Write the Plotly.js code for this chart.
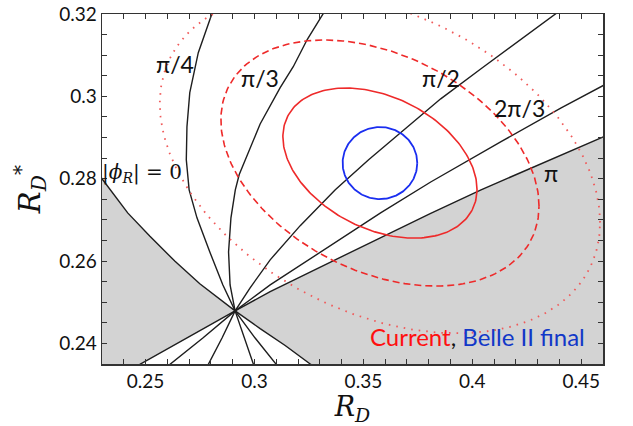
<!DOCTYPE html>
<html>
<head>
<meta charset="utf-8">
<script src="https://cdn.plot.ly/plotly-3.0.1.min.js"></script>
<style>html,body{margin:0;padding:0;background:#fff;}#chart{width:633px;height:426px;}</style>
</head>
<body>
<div id="chart"></div>
<script>
// Axis ranges
const xRange = [0.23, 0.46];
const yRange = [0.235, 0.32];

// Branches of the |phi_R| contours, each starting at the common (SM) point and going outward
const phi0UpperX = [0.2911, 0.2749, 0.2634, 0.2519, 0.2418, 0.2358, 0.2300, 0.2290];
const phi0UpperY = [0.2479, 0.2545, 0.2600, 0.2661, 0.2717, 0.2757, 0.2800, 0.2807];
const phi0LowerX = [0.2911, 0.3026, 0.3141, 0.3256, 0.3280];
const phi0LowerY = [0.2479, 0.2436, 0.2395, 0.2350, 0.2341];

const phiPiUpperX = [0.2911, 0.3072, 0.3441, 0.3809, 0.4040, 0.4270, 0.4607];
const phiPiUpperY = [0.2479, 0.2526, 0.2621, 0.2716, 0.2773, 0.2826, 0.2903];
const phiPiLowerX = [0.2911, 0.2689, 0.2473, 0.2450];
const phiPiLowerY = [0.2479, 0.2413, 0.2349, 0.2342];

const phiQ4UpperX = [0.2911, 0.2855, 0.2795, 0.2736, 0.2700, 0.2687, 0.2690, 0.2703, 0.2742, 0.2803, 0.2813];
const phiQ4UpperY = [0.2479, 0.2542, 0.2622, 0.2705, 0.2773, 0.2846, 0.2926, 0.3009, 0.3106, 0.3198, 0.3215];
const phiQ4LowerX = [0.2911, 0.3003, 0.3100, 0.3115];
const phiQ4LowerY = [0.2479, 0.2413, 0.2349, 0.2339];

const phiT3UpperX = [0.2911, 0.2888, 0.2881, 0.2892, 0.2912, 0.2930, 0.2975, 0.3026, 0.3118, 0.3178, 0.3242, 0.3312, 0.3332];
const phiT3UpperY = [0.2479, 0.2542, 0.2622, 0.2705, 0.2773, 0.2810, 0.2870, 0.2933, 0.3021, 0.3072, 0.3138, 0.3198, 0.3215];
const phiT3LowerX = [0.2911, 0.2952, 0.2995, 0.3002];
const phiT3LowerY = [0.2479, 0.2413, 0.2349, 0.2339];

const phiH2UpperX = [0.2911, 0.2980, 0.3072, 0.3210, 0.3371, 0.3524, 0.3671, 0.3855, 0.4040, 0.4376, 0.4420];
const phiH2UpperY = [0.2479, 0.2535, 0.2603, 0.2686, 0.2773, 0.2846, 0.2912, 0.2994, 0.3067, 0.3198, 0.3215];
const phiH2LowerX = [0.2911, 0.2851, 0.2788, 0.2778];
const phiH2LowerY = [0.2479, 0.2413, 0.2349, 0.2339];

const phi23UpperX = [0.2911, 0.2980, 0.3072, 0.3302, 0.3579, 0.3809, 0.4132, 0.4408, 0.4607];
const phi23UpperY = [0.2479, 0.2506, 0.2542, 0.2622, 0.2717, 0.2792, 0.2890, 0.2972, 0.3028];
const phi23LowerX = [0.2911, 0.2763, 0.2611, 0.2588];
const phi23LowerY = [0.2479, 0.2413, 0.2349, 0.2339];

// Measurements: central values, uncertainties, correlation
const measCenter = [0.3576, 0.2838];
const currentSigma = [0.02938, 0.01202];
const currentRho = -0.35;
const belleSigma = [0.0113, 0.00577];
const belleRho = 0.0;
const chi2Levels = [2.30, 6.18, 11.83];

function joinCurve(ux, uy, lx, ly) {
  return {x: ux.slice().reverse().concat(lx.slice(1)), y: uy.slice().reverse().concat(ly.slice(1))};
}
function ellipse(c, s, rho, k) {
  const xs = [], ys = [], n = 240, r = Math.sqrt(k), q = Math.sqrt(1 - rho * rho);
  for (let i = 0; i <= n; i++) {
    const t = 2 * Math.PI * i / n;
    xs.push(c[0] + r * s[0] * Math.cos(t));
    ys.push(c[1] + r * s[1] * (rho * Math.cos(t) + q * Math.sin(t)));
  }
  return {x: xs, y: ys};
}

const gray = '#d3d3d3';
const traces = [];
// excluded regions
traces.push({
  x: phi0UpperX.slice().reverse().concat(phiPiLowerX.slice(1), [xRange[0] - 0.01, xRange[0] - 0.01]),
  y: phi0UpperY.slice().reverse().concat(phiPiLowerY.slice(1), [yRange[0] - 0.01, phi0UpperY[phi0UpperY.length - 1]]),
  fill: 'toself', fillcolor: gray, mode: 'lines', line: {width: 0}, hoverinfo: 'skip', type: 'scatter'
});
traces.push({
  x: phiPiUpperX.concat([xRange[1] + 0.01, xRange[1] + 0.01], phi0LowerX.slice().reverse()),
  y: phiPiUpperY.concat([phiPiUpperY[phiPiUpperY.length - 1], yRange[0] - 0.01], phi0LowerY.slice().reverse()),
  fill: 'toself', fillcolor: gray, mode: 'lines', line: {width: 0}, hoverinfo: 'skip', type: 'scatter'
});

const curves = [
  joinCurve(phi0UpperX, phi0UpperY, phi0LowerX, phi0LowerY),
  joinCurve(phiPiUpperX, phiPiUpperY, phiPiLowerX, phiPiLowerY),
  joinCurve(phiQ4UpperX, phiQ4UpperY, phiQ4LowerX, phiQ4LowerY),
  joinCurve(phiT3UpperX, phiT3UpperY, phiT3LowerX, phiT3LowerY),
  joinCurve(phiH2UpperX, phiH2UpperY, phiH2LowerX, phiH2LowerY),
  joinCurve(phi23UpperX, phi23UpperY, phi23LowerX, phi23LowerY)
];
curves.forEach(c => traces.push({x: c.x, y: c.y, mode: 'lines', type: 'scatter', line: {color: '#1e1e1e', width: 1.4}, hoverinfo: 'skip'}));

const redStyles = [
  {color: '#ee2a2a', width: 1.6, dash: 'solid'},
  {color: '#ee2a2a', width: 1.6, dash: '7px,4px'},
  {color: '#f05a5a', width: 1.8, dash: '1.6px,6px'}
];
chi2Levels.forEach((k, i) => {
  const e = ellipse(measCenter, currentSigma, currentRho, k);
  traces.push({x: e.x, y: e.y, mode: 'lines', type: 'scatter', line: redStyles[i], hoverinfo: 'skip'});
});
const eb = ellipse(measCenter, belleSigma, belleRho, chi2Levels[0]);
traces.push({x: eb.x, y: eb.y, mode: 'lines', type: 'scatter', line: {color: '#1a2ef0', width: 1.8}, hoverinfo: 'skip'});

const labFont = {family: 'Lato, "Noto Sans", sans-serif', size: 23, color: '#111'};
const annotations = [
  {x: 0.2634, y: 0.3079, text: 'π/4'},
  {x: 0.3026, y: 0.3045, text: 'π/3'},
  {x: 0.3858, y: 0.3045, text: 'π/2'},
  {x: 0.4215, y: 0.2972, text: '2π/3'},
  {x: 0.4362, y: 0.2814, text: 'π'}
].map(a => Object.assign(a, {xref: 'x', yref: 'y', showarrow: false, font: labFont}));
annotations.push({x: 0.2485, y: 0.2814, xref: 'x', yref: 'y', showarrow: false,
  text: '|<i>ϕ</i><sub><i>R</i></sub>| = 0', font: {family: '"DejaVu Serif", serif', size: 20, color: '#111'}});
annotations.push({x: 0.4026, y: 0.2416, xref: 'x', yref: 'y', showarrow: false,
  text: '<span style="color:#ff1010">Current</span>, <span style="color:#1238c8">Belle II final</span>',
  font: {family: 'Lato, "Noto Sans", sans-serif', size: 24, color: '#111'}});

const axisCommon = {
  ticks: 'inside', ticklen: 5, tickwidth: 1, tickcolor: '#333',
  showline: true, mirror: 'ticks', linecolor: '#333', linewidth: 1.5,
  showgrid: false, zeroline: false,
  tickfont: {family: 'Lato, "Noto Sans", sans-serif', size: 19, color: '#111'}
};
const layout = {
  width: 633, height: 426,
  margin: {l: 102, r: 30, t: 14, b: 62},
  paper_bgcolor: '#fff', plot_bgcolor: '#fff',
  showlegend: false,
  xaxis: Object.assign({}, axisCommon, {
    range: xRange, tick0: 0.25, dtick: 0.05,
    minor: {dtick: 0.01, ticks: 'inside', ticklen: 5, tickcolor: '#333'},
    title: {text: '<i>R</i><sub><i>D</i></sub>', font: {family: '"DejaVu Serif", serif', size: 27, color: '#111'}, standoff: 10}
  }),
  yaxis: Object.assign({}, axisCommon, {
    range: yRange, tick0: 0.24, dtick: 0.02,
    minor: {dtick: 0.005, ticks: 'inside', ticklen: 5, tickcolor: '#333'},
    title: {text: '<i>R</i><sub><i>D</i></sub><sup>*</sup>', font: {family: '"DejaVu Serif", serif', size: 29, color: '#111'}, standoff: 10}
  }),
  annotations: annotations
};
Plotly.newPlot('chart', traces, layout, {displayModeBar: false, staticPlot: true});
</script>
</body>
</html>
